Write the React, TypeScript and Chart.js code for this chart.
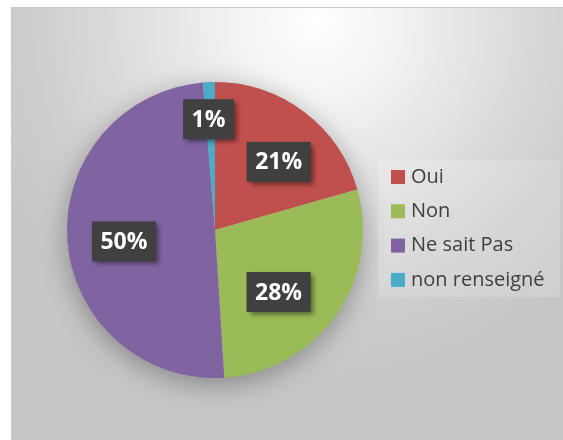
import React, { useEffect, useRef } from "react";
import { Chart, registerables } from "chart.js";

Chart.register(...registerables);

const categories = ["Oui", "Non", "Ne sait Pas", "non renseigné"];
const shares = [20.6, 28.4, 49.7, 1.3];
const sliceLabels = ["21%", "28%", "50%", "1%"];
const colors = ["#c0504d", "#9bbb59", "#8064a2", "#4bacc6"];
// label placement tweaks (radius fraction, angle shift in degrees)
const labelRadius = [0.63, 0.6, 0.62, 0.75];
const labelShift = [6, 9, -3, -1];

const W = 552;
const H = 433;

const decor = {
  id: "decor",
  beforeDatasetsDraw(chart: any) {
    const arc = chart.getDatasetMeta(0).data[0];
    if (!arc) return;
    const ctx = chart.ctx;
    ctx.save();
    ctx.shadowColor = "rgba(0,0,0,0.35)";
    ctx.shadowBlur = 28;
    ctx.shadowOffsetY = 6;
    ctx.fillStyle = "#bbbbbb";
    ctx.beginPath();
    ctx.arc(arc.x, arc.y, arc.outerRadius - 1, 0, Math.PI * 2);
    ctx.fill();
    ctx.restore();
  },
  afterDatasetsDraw(chart: any) {
    const ctx = chart.ctx;
    const meta = chart.getDatasetMeta(0);
    const labels = chart.data.labels as string[];
    const bg = chart.data.datasets[0].backgroundColor as string[];
    // slice labels
    meta.data.forEach((a: any, i: number) => {
      const mid = (a.startAngle + a.endAngle) / 2 + (labelShift[i] * Math.PI) / 180;
      const r = a.outerRadius * labelRadius[i];
      const cx = a.x + Math.cos(mid) * r;
      const cy = a.y + Math.sin(mid) * r;
      ctx.save();
      ctx.font = "bold 23px 'Open Sans'";
      const tw = ctx.measureText(sliceLabels[i]).width;
      const bw = tw + 17;
      const bh = 40;
      ctx.shadowColor = "rgba(0,0,0,0.45)";
      ctx.shadowBlur = 5;
      ctx.shadowOffsetX = 3;
      ctx.shadowOffsetY = 3;
      ctx.fillStyle = "#404040";
      ctx.fillRect(cx - bw / 2, cy - bh / 2, bw, bh);
      ctx.shadowColor = "transparent";
      ctx.fillStyle = "#ffffff";
      ctx.textAlign = "center";
      ctx.textBaseline = "middle";
      ctx.fillText(sliceLabels[i], cx, cy + 1);
      ctx.restore();
    });
    // legend
    ctx.save();
    ctx.fillStyle = "rgba(255,255,255,0.16)";
    ctx.fillRect(366, 152, 182, 137);
    ctx.font = "20px 'Open Sans'";
    ctx.textBaseline = "middle";
    ctx.textAlign = "left";
    labels.forEach((lab, i) => {
      const y = 169 + i * 34.3;
      ctx.fillStyle = bg[i];
      ctx.fillRect(379, y - 7, 14, 14);
      ctx.fillStyle = "#404040";
      ctx.fillText(lab, 399, y);
    });
    ctx.restore();
  },
};

export default function App() {
  const ref = useRef<HTMLCanvasElement>(null);
  useEffect(() => {
    if (!ref.current) return;
    const chart = new Chart(ref.current, {
      type: "pie",
      data: {
        labels: categories,
        datasets: [
          {
            data: shares,
            backgroundColor: colors,
            borderWidth: 0,
          },
        ],
      },
      options: {
        responsive: false,
        animation: false,
        devicePixelRatio: 1,
        layout: { padding: { top: 74, bottom: 63, left: 55, right: 201 } },
        plugins: {
          legend: { display: false },
          tooltip: { enabled: false },
        },
      },
      plugins: [decor],
    });
    return () => chart.destroy();
  }, []);
  return (
    <div
      style={{
        position: "absolute",
        left: 11,
        top: 7,
        width: W,
        height: H,
        borderLeft: "1px solid #c8c8c8",
        borderTop: "1px solid #c8c8c8",
        background:
          "radial-gradient(ellipse 65% 85% at 55% 3%, #ffffff 0%, #f3f3f3 22%, #dcdcdc 55%, #cdcdcd 80%, #c6c6c6 100%)",
      }}
    >
      <canvas ref={ref} width={W} height={H} style={{ display: "block" }} />
    </div>
  );
}
